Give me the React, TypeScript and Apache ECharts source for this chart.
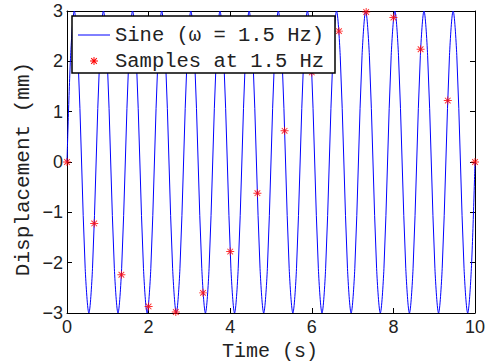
import React, { useEffect, useRef } from "react";
import * as echarts from "echarts";

// Sine curve key points (time in s, displacement in mm)
const sineT = [
  0, 0.089, 0.179, 0.268, 0.357, 0.446, 0.536, 0.625, 0.714, 0.804, 0.893, 0.982,
  1.071, 1.161, 1.25, 1.339, 1.429, 1.518, 1.607, 1.696, 1.786, 1.875, 1.964, 2.054,
  2.143, 2.232, 2.321, 2.411, 2.5, 2.589, 2.679, 2.768, 2.857, 2.946, 3.036, 3.125,
  3.214, 3.304, 3.393, 3.482, 3.571, 3.661, 3.75, 3.839, 3.929, 4.018, 4.107, 4.196,
  4.286, 4.375, 4.464, 4.554, 4.643, 4.732, 4.821, 4.911, 5.0, 5.089, 5.179, 5.268,
  5.357, 5.446, 5.536, 5.625, 5.714, 5.804, 5.893, 5.982, 6.071, 6.161, 6.25, 6.339,
  6.429, 6.518, 6.607, 6.696, 6.786, 6.875, 6.964, 7.054, 7.143, 7.232, 7.321, 7.411,
  7.5, 7.589, 7.679, 7.768, 7.857, 7.946, 8.036, 8.125, 8.214, 8.304, 8.393, 8.482,
  8.571, 8.661, 8.75, 8.839, 8.929, 9.018, 9.107, 9.196, 9.286, 9.375, 9.464, 9.554,
  9.643, 9.732, 9.821, 9.911, 10.0,
];
const sineV = [
  0, 2.12, 3, 2.12, 0, -2.12, -3, -2.12,
  0, 2.12, 3, 2.12, 0, -2.12, -3, -2.12,
  0, 2.12, 3, 2.12, 0, -2.12, -3, -2.12,
  0, 2.12, 3, 2.12, 0, -2.12, -3, -2.12,
  0, 2.12, 3, 2.12, 0, -2.12, -3, -2.12,
  0, 2.12, 3, 2.12, 0, -2.12, -3, -2.12,
  0, 2.12, 3, 2.12, 0, -2.12, -3, -2.12,
  0, 2.12, 3, 2.12, 0, -2.12, -3, -2.12,
  0, 2.12, 3, 2.12, 0, -2.12, -3, -2.12,
  0, 2.12, 3, 2.12, 0, -2.12, -3, -2.12,
  0, 2.12, 3, 2.12, 0, -2.12, -3, -2.12,
  0, 2.12, 3, 2.12, 0, -2.12, -3, -2.12,
  0, 2.12, 3, 2.12, 0, -2.12, -3, -2.12,
  0, 2.12, 3, 2.12, 0, -2.12, -3, -2.12,
  0,
];

// Samples at 1.5 Hz
const sampleT = [0, 0.667, 1.333, 2, 2.667, 3.333, 4, 4.667, 5.333, 6, 6.667, 7.333, 8, 8.667, 9.333, 10];
const sampleV = [0, -1.22, -2.24, -2.87, -2.98, -2.6, -1.78, -0.62, 0.62, 1.78, 2.6, 2.98, 2.87, 2.24, 1.22, 0];

const xTicks = { min: 0, max: 10, interval: 2 };
const yTicks = { min: -3, max: 3, interval: 1 };

const legendNames = ["Sine (\u03c9 = 1.5 Hz)", "Samples at 1.5 Hz"];
const xTitle = "Time (s)";
const yTitle = "Displacement (mm)";

const starD =
  "M4.4 0H5.6V10H4.4Z M0 4.4H10V5.6H0Z M1.05 1.9L1.9 1.05L8.95 8.1L8.1 8.95Z M8.1 1.05L8.95 1.9L1.9 8.95L1.05 8.1Z";

echarts.graphic.registerShape("asterisk", echarts.graphic.extendPath(starD, {}));

const MONO = '"Liberation Mono", "Courier New", monospace';
const SANS = '"Liberation Sans", Arial, sans-serif';
const TXT = "#222";

export default function App() {
  const ref = useRef<HTMLDivElement>(null);
  useEffect(() => {
    if (!ref.current) return;
    const chart = echarts.init(ref.current, undefined, { renderer: "svg" });
    const axisLine = { show: true, onZero: false, lineStyle: { color: "#000", width: 1 } };
    const axisTick = { show: true, inside: true, length: 5, lineStyle: { color: "#000", width: 1 } };
    const fmt = (v: number) => (v < 0 ? "\u2212" + Math.abs(v) : String(v));
    chart.setOption({
      animation: false,
      backgroundColor: "#fff",
      grid: { left: 67, right: 8, top: 11, bottom: 49, containLabel: false },
      xAxis: [
        {
          type: "value", ...xTicks, position: "bottom",
          axisLine, axisTick,
          axisLabel: { fontFamily: SANS, fontSize: 18, color: TXT, margin: 5, formatter: fmt },
          splitLine: { show: false },
        },
        {
          type: "value", ...xTicks, position: "top",
          axisLine, axisTick, axisLabel: { show: false }, splitLine: { show: false },
        },
      ],
      yAxis: [
        {
          type: "value", ...yTicks, position: "left",
          axisLine, axisTick,
          axisLabel: { fontFamily: SANS, fontSize: 18, color: TXT, margin: 4, formatter: fmt },
          splitLine: { show: false },
        },
        {
          type: "value", ...yTicks, position: "right",
          axisLine, axisTick, axisLabel: { show: false }, splitLine: { show: false },
        },
      ],
      series: [
        {
          name: legendNames[0],
          type: "line",
          xAxisIndex: 0,
          yAxisIndex: 0,
          data: sineT.map((t, i) => [t, sineV[i]]),
          showSymbol: false,
          smooth: 0.33,
          lineStyle: { color: "#0000ff", width: 1 },
          itemStyle: { color: "#0000ff" },
          z: 2,
        },
        {
          name: legendNames[1],
          type: "scatter",
          xAxisIndex: 0,
          yAxisIndex: 0,
          data: sampleT.map((t, i) => [t, sampleV[i]]),
          symbol: "path://" + starD,
          symbolSize: 8,
          itemStyle: { color: "#ff0000" },
          z: 3,
        },
      ],
      graphic: [
        {
          type: "rect", z: 100,
          shape: { x: 72, y: 16, width: 263, height: 57 },
          style: { fill: "#fff", stroke: "#000", lineWidth: 1.5 },
        },
        {
          type: "line", z: 101,
          shape: { x1: 78, y1: 35, x2: 110, y2: 35 },
          style: { stroke: "#0000ff", lineWidth: 1 },
        },
        {
          type: "text", z: 101, x: 115, y: 35,
          style: { text: legendNames[0], font: "20.5px " + MONO, fill: TXT, verticalAlign: "middle" },
        },
        {
          type: "asterisk", z: 101, x: 90, y: 57, scaleX: 0.8, scaleY: 0.8,
          style: { fill: "#ff0000" },
        },
        {
          type: "text", z: 101, x: 115, y: 61,
          style: { text: legendNames[1], font: "20.5px " + MONO, fill: TXT, verticalAlign: "middle" },
        },
        {
          type: "text", z: 101, x: 270, y: 351,
          style: { text: xTitle, font: "20px " + MONO, fill: TXT, align: "center", verticalAlign: "middle" },
        },
        {
          type: "text", z: 101, x: 23, y: 169, rotation: Math.PI / 2,
          style: { text: yTitle, font: "21px " + MONO, fill: TXT, align: "center", verticalAlign: "middle" },
        },
      ],
    });
    return () => chart.dispose();
  }, []);
  return <div ref={ref} style={{ width: 488, height: 362, position: "absolute", left: 0, top: 0 }} />;
}
